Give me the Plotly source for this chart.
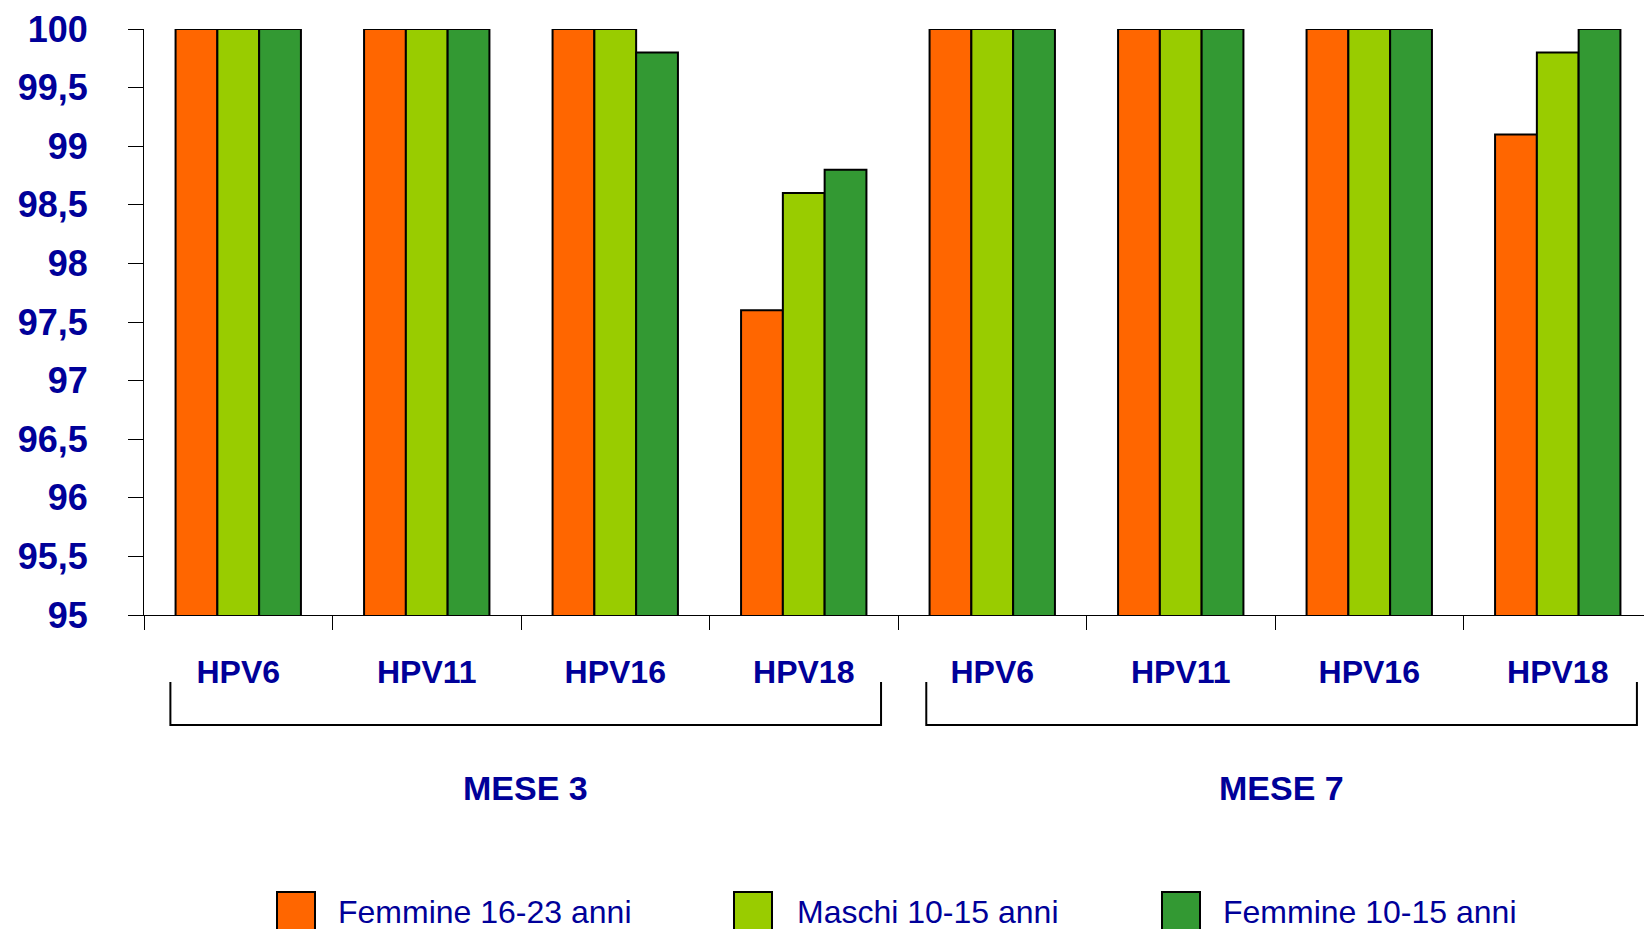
import plotly.graph_objects as go

# ---- data ----
strains = ["HPV6", "HPV11", "HPV16", "HPV18", "HPV6", "HPV11", "HPV16", "HPV18"]
months = ["MESE 3", "MESE 7"]
series_names = ["Femmine 16-23 anni", "Maschi 10-15 anni", "Femmine 10-15 anni"]
femmine_16_23 = [100, 100, 100, 97.6, 100, 100, 100, 99.1]
maschi_10_15 = [100, 100, 100, 98.6, 100, 100, 100, 99.8]
femmine_10_15 = [100, 100, 99.8, 98.8, 100, 100, 100, 100]
y_ticks = [95, 95.5, 96, 96.5, 97, 97.5, 98, 98.5, 99, 99.5, 100]

colors = ["#FF6600", "#99CC00", "#339933"]
TEXT = "#000099"
FONT = "Liberation Sans, Arial, sans-serif"

OFF = 8  # page body margin
W, H = 1652 - OFF, 929 - OFF
ML, MT = 144 - OFF, 29 - OFF
MR = 0
MB = H - (615 - OFF)
PW, PH = W - ML - MR, H - MT - MB


def px_x(p):  # page pixel -> paper
    return (p - OFF - ML) / PW


def px_y(p):
    return (MT + PH - (p - OFF)) / PH


xs = list(range(len(strains)))
fig = go.Figure()
for name, vals, col in zip(series_names, [femmine_16_23, maschi_10_15, femmine_10_15], colors):
    fig.add_trace(go.Bar(x=xs, y=vals, name=name, marker=dict(color=col, line=dict(color="black", width=2)),
                         showlegend=False))

shapes = []
annotations = []

# brackets under each month group
brackets = [(-0.36, 3.41), (3.65, 7.42)]
for (a, b), m in zip(brackets, months):
    y_top, y_bot = px_y(682), px_y(725)
    shapes.append(dict(type="path", xref="x", yref="paper",
                       path=f"M {a},{y_top} L {a},{y_bot} L {b},{y_bot} L {b},{y_top}",
                       line=dict(color="black", width=2)))
    annotations.append(dict(x=(a + b) / 2, y=px_y(788), xref="x", yref="paper", text=m, showarrow=False,
                            xanchor="center", yanchor="middle",
                            font=dict(family=FONT, size=34, color=TEXT, weight="bold")))

# custom legend
leg_sq = [277, 734, 1162]
leg_tx = [336, 795, 1221]
for name, col, sx, tx in zip(series_names, colors, leg_sq, leg_tx):
    shapes.append(dict(type="rect", xref="paper", yref="paper", x0=px_x(sx), x1=px_x(sx + 38),
                       y0=px_y(892), y1=px_y(940), fillcolor=col, line=dict(color="black", width=2)))
    annotations.append(dict(x=px_x(tx), y=px_y(912), xref="paper", yref="paper", text=name, showarrow=False,
                            xanchor="left", yanchor="middle",
                            font=dict(family=FONT, size=32, color=TEXT)))

fig.update_layout(
    width=W, height=H,
    margin=dict(l=ML, r=MR, t=MT, b=MB),
    paper_bgcolor="white", plot_bgcolor="white",
    barmode="group", bargap=0.335, bargroupgap=0,
    separators=",.",
    shapes=shapes, annotations=annotations,
    xaxis=dict(range=[-0.5, len(strains) - 0.5], tickmode="array", tickvals=xs, ticktext=strains,
               ticks="", showgrid=False, zeroline=False, showline=True, linecolor="black", linewidth=1,
               ticklabelstandoff=29,
               tickfont=dict(family=FONT, size=32, color=TEXT, weight="bold"),
               minor=dict(tickmode="array", tickvals=[i - 0.5 for i in range(len(strains) + 1)],
                          ticks="outside", ticklen=14, tickcolor="black", tickwidth=1, showgrid=False)),
    yaxis=dict(range=[95, 100], tickmode="array", tickvals=y_ticks, ticks="outside", ticklen=15,
               tickcolor="black", tickwidth=1, showgrid=False, zeroline=False, showline=True,
               linecolor="black", linewidth=1, ticklabelstandoff=33,
               tickfont=dict(family=FONT, size=36, color=TEXT, weight="bold")),
)

fig.write_html("out.html")
